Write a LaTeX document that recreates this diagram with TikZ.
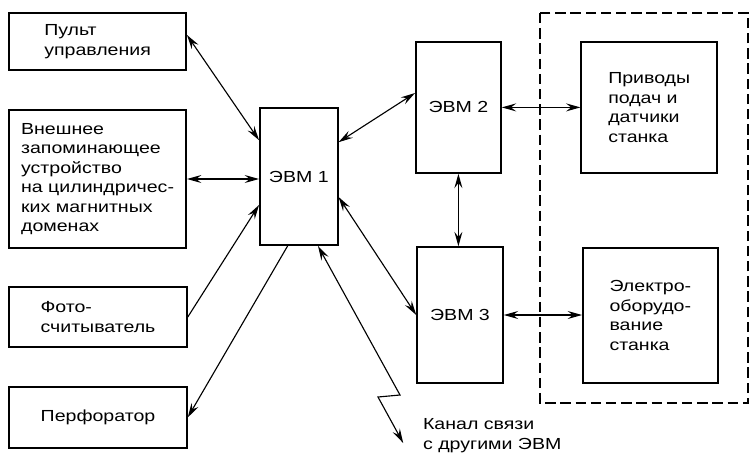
\documentclass[tikz,border=0pt]{standalone}
\usepackage{fontspec}
\setmainfont{Liberation Sans}[FakeStretch=1.22]
\usetikzlibrary{arrows.meta}
\tikzset{
    box/.style ={
        rectangle,              % 矩形节点
        draw=black,             % 边框颜色
        line width = 1.1pt,     % 边框粗细
        align = left,           % 多行文字左对齐
        inner sep = 0pt,        % 文字和边框的距离
        font = \fontsize{11.4}{13.9}\selectfont
    },
    link/.style ={
        <->,                    % 双向箭头
        line width = 0.8pt,     % 线宽
        >={Stealth[length=3.6mm,width=2mm,inset=1.3mm]}
    }
}

\begin{document}
\begin{tikzpicture}
    \useasboundingbox (0,0) rectangle (18.775,11.475);
    % 外部设备
    \node[box, minimum width=4.43cm, minimum height=1.43cm] (1) at(2.44,10.44) {Пульт\\управления};
    \node[box, minimum width=4.43cm, minimum height=3.45cm] (2) at(2.44,7.0) {Внешнее\\запоминающее\\устройство\\на цилиндричес-\\ких магнитных\\доменах};
    \node[box, minimum width=4.45cm, minimum height=1.5cm] (3) at(2.45,3.55) {Фото-\\считыватель};
    \node[box, minimum width=4.45cm, minimum height=1.53cm] (4) at(2.45,1.04) {Перфоратор};
    % 计算机
    \node[box, minimum width=1.95cm, minimum height=3.43cm] (5) at(7.47,7.06) {ЭВМ 1};
    \node[box, minimum width=2.13cm, minimum height=3.28cm] (6) at(11.46,8.79) {ЭВМ 2};
    \node[box, minimum width=2.15cm, minimum height=3.4cm] (7) at(11.5,3.6) {ЭВМ 3};
    % 机床
    \draw[line width=1.1pt, dash pattern=on 0.26cm off 0.12cm] (13.5,11.15) rectangle (18.7,1.4);
    \node[box, minimum width=3.4cm, minimum height=3.28cm] (8) at(16.23,8.79) {Приводы\\подач и\\датчики\\станка};
    \node[box, minimum width=3.38cm, minimum height=3.38cm] (9) at(16.26,3.59) {Электро-\\оборудо-\\вание\\станка};
    % 连线
    \draw[link] ([yshift=0.16cm]1.east) -- ([yshift=0.91cm]5.west);
    \draw[link] (2.east) -- (2.east -| 5.west);
    \draw[link, ->] (3.east) -- ([yshift=-0.71cm]5.west);
    \draw[link, ->] ([xshift=-0.28cm]5.south) -- (4.east);
    \draw[link] ([yshift=0.86cm]5.east) -- ([yshift=0.36cm]6.west);
    \draw[link] ([yshift=-0.51cm]5.east) -- (7.west);
    \draw[link] (6.south) -- (6.south |- 7.north);
    \draw[link] (6.east) -- (8.west);
    \draw[link] (7.east) -- (7.east -| 9.west);
    % 通信信道
    \coordinate (k1) at(10.0,1.6);
    \coordinate (k2) at(9.45,1.55);
    \coordinate (k3) at(10.08,0.4);
    \draw[link] ([xshift=0.48cm]5.south) -- (k1) -- (k2) -- (k3);
    \node[anchor=north west, inner sep=0pt, align=left, font=\fontsize{11.4}{13.9}\selectfont] (10) at(10.57,1.02) {Канал связи\\с другими ЭВМ};
\end{tikzpicture}
\end{document}
